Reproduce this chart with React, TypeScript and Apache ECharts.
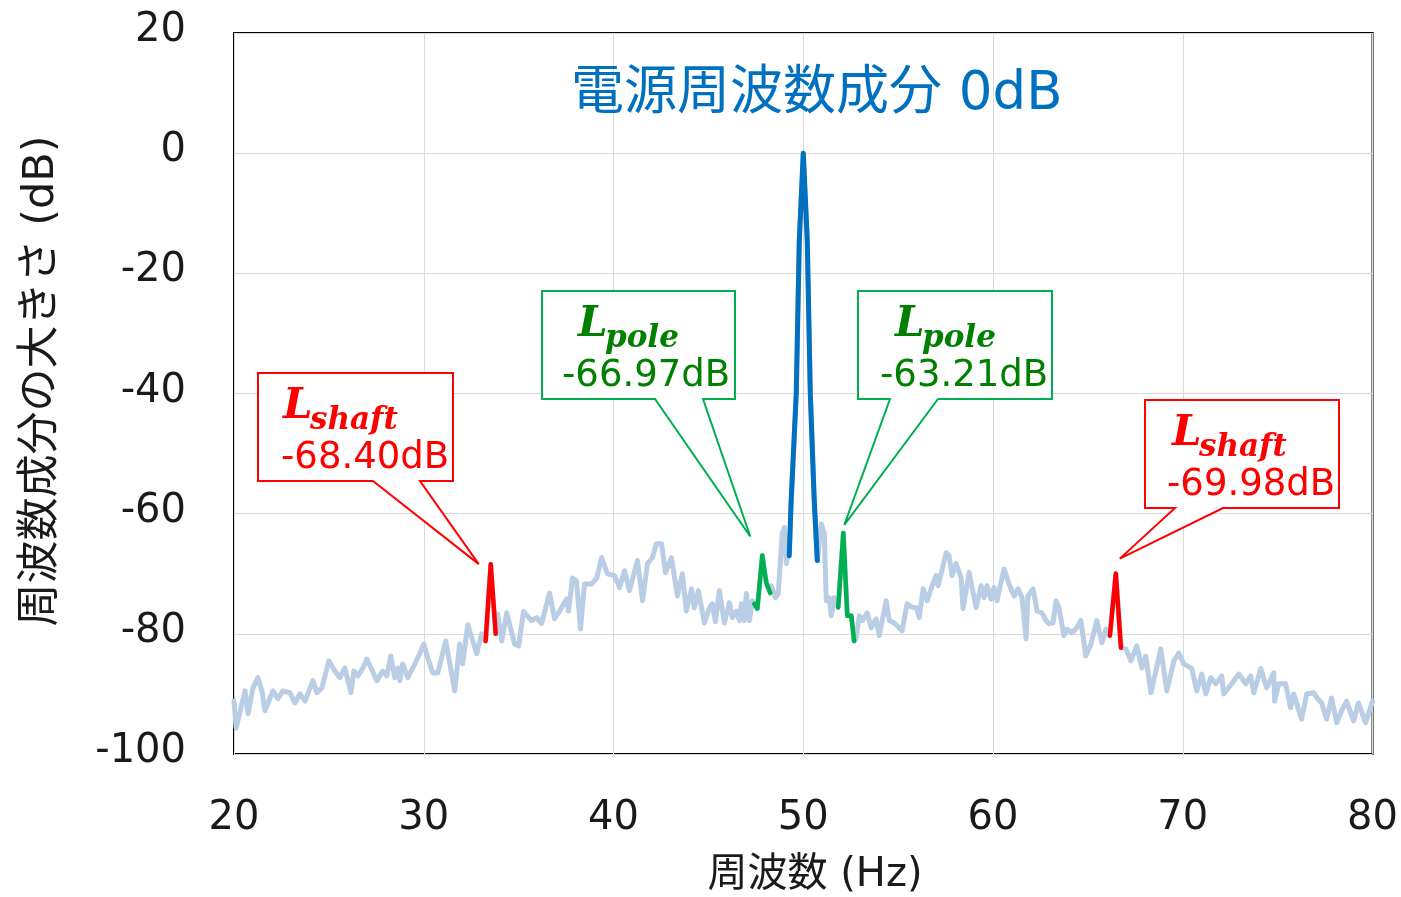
import React, { useEffect, useRef } from "react";
import * as echarts from "echarts";

type P = [number, number];

// Spectrum trace, split where coloured overlays sit (frequency Hz, level dB)
const noiseA: P[] = [
  [20.0, -91.2], [20.11, -95.7], [20.58, -89.5], [20.74, -93.3], [21.0, -89.0], [21.26, -87.3],
  [21.47, -89.5], [21.63, -92.8], [22.05, -89.5], [22.32, -90.8], [22.58, -89.5], [22.95, -89.8],
  [23.21, -91.5], [23.47, -90.0], [23.74, -91.2], [24.16, -87.8], [24.37, -89.8], [24.63, -89.0],
  [25.0, -84.5], [25.32, -86.2], [25.58, -87.3], [25.84, -85.7], [26.16, -89.8], [26.32, -86.2],
  [26.53, -87.0], [26.79, -85.7], [27.0, -84.2], [27.53, -87.8], [27.84, -86.2], [28.05, -87.0],
  [28.26, -83.7], [28.47, -87.3], [28.63, -85.7], [28.74, -87.8], [28.89, -85.0], [29.16, -87.3],
  [29.53, -85.0], [29.79, -83.3], [30.0, -81.7], [30.21, -84.0], [30.47, -86.5], [30.74, -86.5],
  [31.16, -81.2], [31.63, -89.5], [31.89, -81.7], [32.05, -85.0], [32.32, -78.5], [32.79, -83.3],
  [33.05, -80.0],
];
const shaftLeft: P[] = [[33.26, -81.2], [33.53, -68.4], [33.79, -80.0]];
const noiseB: P[] = [
  [33.89, -76.7], [34.11, -81.2], [34.37, -76.5], [34.79, -81.7], [35.0, -82.0], [35.26, -76.3],
  [35.68, -77.8], [35.95, -77.3], [36.21, -78.3], [36.63, -73.2], [36.89, -77.5], [37.16, -76.2],
  [37.53, -74.2], [37.63, -76.2], [37.84, -70.7], [38.05, -71.2], [38.26, -79.2], [38.47, -71.7],
  [38.84, -71.7], [39.11, -70.8], [39.37, -67.3], [39.68, -70.0], [40.05, -70.3], [40.32, -72.3],
  [40.58, -69.5], [40.84, -72.8], [41.26, -67.8], [41.53, -74.5], [41.79, -68.3], [42.05, -67.3],
  [42.26, -65.0], [42.53, -65.0], [42.74, -69.8], [43.05, -67.3], [43.37, -73.7], [43.63, -70.0],
  [43.84, -76.2], [44.11, -72.5], [44.26, -75.7], [44.47, -72.8], [44.79, -78.2], [45.05, -75.7],
  [45.21, -75.0], [45.37, -78.0], [45.58, -72.8], [45.84, -78.2], [46.11, -74.8], [46.26, -77.3],
  [46.47, -76.2], [46.63, -77.8], [46.74, -75.0], [46.89, -77.8], [47.0, -73.3], [47.16, -77.8],
  [47.32, -74.5],
];
const poleLeft: P[] = [[47.42, -75.0], [47.58, -75.8], [47.84, -66.97], [48.05, -71.5], [48.26, -73.2]];
const noiseC: P[] = [
  [48.32, -72.0], [48.53, -74.0], [48.68, -73.3], [48.89, -63.3], [49.0, -62.3], [49.11, -68.3],
  [49.21, -66.7],
];
const fundamental: P[] = [
  [49.26, -67.0], [49.36, -58.0], [49.63, -40.0], [49.79, -14.5], [50.0, 0.0], [50.21, -14.5],
  [50.37, -40.0], [50.58, -58.0], [50.74, -67.8],
];
const noiseD: P[] = [[50.95, -61.7], [51.11, -63.3], [51.21, -74.5], [51.37, -74.0], [51.47, -77.0], [51.63, -74.0]];
const poleRight: P[] = [[51.84, -75.6], [52.11, -63.21], [52.32, -77.0], [52.53, -77.0], [52.68, -81.2]];
const noiseE: P[] = [
  [52.79, -80.7], [52.95, -77.0], [53.11, -77.8], [53.37, -76.5], [53.58, -79.0], [53.84, -77.5],
  [54.0, -80.3], [54.37, -74.5], [54.53, -77.8], [54.79, -78.2], [55.21, -79.5], [55.47, -75.0],
  [55.74, -75.6], [55.95, -75.6], [56.11, -77.3], [56.32, -72.5], [56.53, -74.5], [56.79, -72.0],
  [57.0, -70.3], [57.11, -72.0], [57.53, -66.5], [57.68, -67.0], [57.84, -70.3], [58.05, -68.3],
  [58.32, -70.7], [58.42, -75.8], [58.74, -69.8], [59.11, -75.6], [59.37, -72.0], [59.53, -74.0],
  [59.68, -72.0], [59.89, -74.2], [60.05, -72.3], [60.21, -74.5], [60.58, -69.2], [60.84, -71.7],
  [61.11, -73.7], [61.32, -72.5], [61.53, -74.0], [61.74, -80.8], [61.84, -73.7], [62.11, -72.5],
  [62.32, -76.2], [62.58, -76.5], [62.79, -77.8], [62.95, -78.3], [63.16, -78.2], [63.32, -74.5],
  [63.47, -75.6], [63.74, -80.3], [63.89, -79.2], [64.16, -79.8], [64.37, -79.2], [64.63, -77.8],
  [64.89, -83.7], [65.16, -81.7], [65.47, -77.8], [65.74, -81.5], [65.95, -79.2],
];
const shaftRight: P[] = [[66.16, -80.3], [66.47, -69.98], [66.74, -82.3]];
const noiseF: P[] = [
  [67.0, -82.5], [67.26, -84.5], [67.58, -82.0], [67.84, -85.7], [68.05, -83.7], [68.32, -89.8],
  [68.58, -86.2], [68.84, -82.5], [69.16, -89.5], [69.53, -84.5], [69.79, -83.2], [70.05, -85.0],
  [70.47, -85.8], [70.74, -89.5], [71.0, -86.7], [71.21, -90.0], [71.47, -87.3], [71.74, -88.3],
  [72.05, -87.0], [72.16, -90.0], [72.58, -88.3], [72.95, -86.7], [73.32, -88.3], [73.58, -87.0],
  [73.74, -89.8], [74.11, -85.8], [74.42, -89.0], [74.79, -86.5], [74.84, -91.2], [75.05, -88.3],
  [75.42, -88.3], [75.68, -92.3], [75.84, -90.0], [76.26, -94.2], [76.53, -90.0], [76.89, -89.8],
  [77.11, -90.8], [77.32, -91.5], [77.58, -94.2], [77.84, -90.7], [78.11, -94.8], [78.37, -92.8],
  [78.63, -91.2], [79.0, -94.5], [79.26, -91.5], [79.63, -94.8], [80.0, -91.2],
];

const xRange = [20, 80];
const yRange = [-100, 20];
const titleText = "電源周波数成分 0dB";
const xName = "周波数 (Hz)";
const yName = "周波数成分の大きさ (dB)";

const LATIN = "'DejaVu Sans', 'Noto Sans CJK JP', sans-serif";
const SERIF = "'DejaVu Serif', serif";
const GREEN = "#00B050";
const GREEN_TEXT = "#008000";
const RED = "#FF0000";
const INK = "#1a1a1a";

const callouts = [
  { seg: shaftLeft, name: "shaft", value: "-68.40dB", stroke: RED, text: RED,
    box: [258, 373, 453, 481], base: [373, 420], tipOff: [-12, 0], lx: 25, vx: 23 },
  { seg: poleLeft, name: "pole", value: "-66.97dB", stroke: GREEN, text: GREEN_TEXT,
    box: [542, 291, 735, 399], base: [655, 703], tipOff: [-12, -19], lx: 36, vx: 20 },
  { seg: poleRight, name: "pole", value: "-63.21dB", stroke: GREEN, text: GREEN_TEXT,
    box: [858, 291, 1052, 399], base: [890, 938], tipOff: [1, -8], lx: 37, vx: 22 },
  { seg: shaftRight, name: "shaft", value: "-69.98dB", stroke: RED, text: RED,
    box: [1145, 400, 1339, 508], base: [1175, 1223], tipOff: [4, -15], lx: 27, vx: 22 },
];

function lineSeries(data: P[], color: string, width: number, z: number) {
  return {
    type: "line",
    data,
    showSymbol: false,
    symbol: "none",
    z,
    lineStyle: { color, width, join: "round", cap: "round" },
    itemStyle: { color },
    silent: true,
  };
}

function txt(x: number, y: number, text: string, fill: string, fontSize: number, fontFamily: string,
  extra: any = {}, align = "left") {
  return {
    type: "text", z: 101, x, y,
    style: {
      text, fill, fontSize, fontFamily, align, verticalAlign: "middle",
      textAlign: align, textVerticalAlign: "middle", ...extra,
    },
  };
}

export default function App() {
  const ref = useRef<HTMLDivElement>(null);
  useEffect(() => {
    const chart = echarts.init(ref.current!, null, { renderer: "svg" });
    const trace = [...noiseA, ...shaftLeft, ...noiseB, ...poleLeft, ...noiseC, ...fundamental,
      ...noiseD, ...poleRight, ...noiseE, ...shaftRight, ...noiseF];
    chart.setOption({
      animation: false,
      title: {
        text: titleText, left: 571, top: 64, padding: 0,
        textStyle: { color: "#0070C0", fontSize: 53, fontWeight: "normal", fontFamily: LATIN },
      },
      grid: { left: 234, right: 27, top: 33, bottom: 143, show: true, borderColor: "#000", borderWidth: 2, backgroundColor: "transparent" },
      xAxis: {
        type: "value", min: xRange[0], max: xRange[1], interval: 10,
        axisLine: { show: false }, axisTick: { show: false },
        axisLabel: { fontSize: 40, color: INK, fontFamily: LATIN, margin: 41 },
        splitLine: { lineStyle: { color: "#D9D9D9", width: 1 } },
      },
      yAxis: {
        type: "value", min: yRange[0], max: yRange[1], interval: 20,
        axisLine: { show: false }, axisTick: { show: false },
        axisLabel: {
          margin: 48,
          formatter: (v: number) => `{t|${v}}`,
          rich: { t: { fontSize: 40, color: INK, fontFamily: LATIN, padding: [0, 0, 12, 0] } },
        },
        splitLine: { lineStyle: { color: "#D9D9D9", width: 1 } },
      },
      series: [
        lineSeries(trace, "#B9CDE5", 5, 2),
        lineSeries(fundamental, "#0070C0", 5, 3),
        lineSeries(poleLeft, GREEN, 4.5, 4),
        lineSeries(poleRight, GREEN, 4.5, 4),
        lineSeries(shaftLeft, RED, 4.5, 4),
        lineSeries(shaftRight, RED, 4.5, 4),
      ],
    });

    const graphics: any[] = [
      txt(815, 872, xName, INK, 40, LATIN, {}, "center"),
      { ...txt(38, 381, yName, INK, 43, LATIN, {}, "center"), rotation: Math.PI / 2 },
    ];
    callouts.forEach((c) => {
      const peak = c.seg.reduce((a, b) => (b[1] > a[1] ? b : a));
      const pix = chart.convertToPixel({ gridIndex: 0 }, peak) as number[];
      const tip = [pix[0] + c.tipOff[0], pix[1] + c.tipOff[1]];
      const [x0, y0, x1, y1] = c.box;
      const [a, b] = c.base;
      graphics.push({
        type: "polygon", z: 100,
        shape: { points: [[x0, y0], [x1, y0], [x1, y1], [b, y1], tip, [a, y1], [x0, y1]] },
        style: { fill: "#fff", stroke: c.stroke, lineWidth: 2 },
      });
      const bi = { fontWeight: "bold", fontStyle: "italic" };
      graphics.push(txt(x0 + c.lx, y0 + 30, "L", c.text, 42, SERIF, bi));
      graphics.push(txt(x0 + c.lx + 27, y0 + 45, c.name, c.text, 31, SERIF, bi));
      graphics.push(txt(x0 + c.vx, y0 + 82, c.value, c.text, 37, LATIN));
    });
    chart.setOption({ graphic: graphics });
    return () => chart.dispose();
  }, []);
  return <div ref={ref} style={{ position: "fixed", left: 0, top: 0, width: 1401, height: 897 }} />;
}
